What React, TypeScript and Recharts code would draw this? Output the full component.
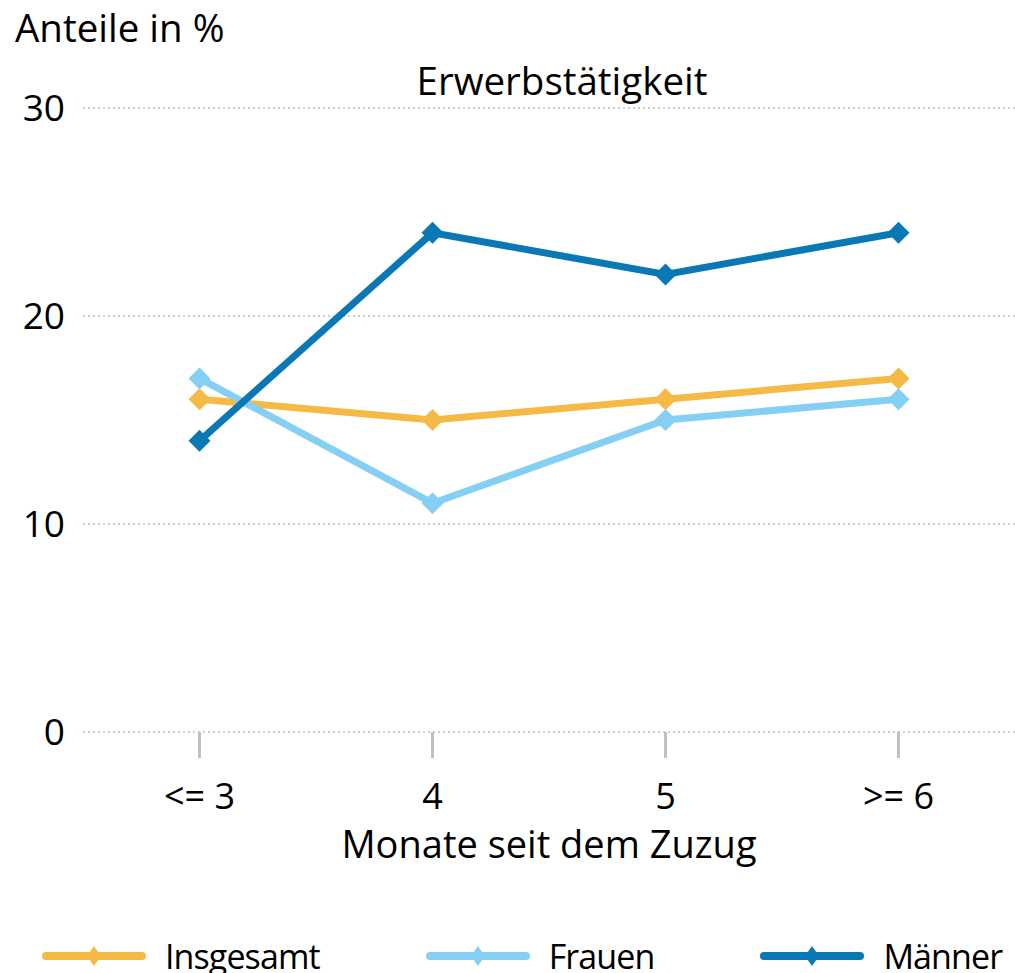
import React from "react";
import { LineChart, Line, XAxis, YAxis, CartesianGrid, Legend } from "recharts";

const months = ["<= 3", "4", "5", ">= 6"];
const insgesamt = [16, 15, 16, 17];
const frauen = [17, 11, 15, 16];
const maenner = [14, 24, 22, 24];
const yTicks = [0, 10, 20, 30];
const seriesNames = ["Insgesamt", "Frauen", "Männer"];

const data = months.map((m, i) => ({
  month: m,
  Insgesamt: insgesamt[i],
  Frauen: frauen[i],
  Männer: maenner[i],
}));

const FONT = "'Open Sans', sans-serif";

const Diamond = (props: any) => {
  const { cx, cy, stroke } = props;
  if (cx == null || cy == null) return null;
  const r = 11;
  return (
    <polygon
      points={`${cx},${cy - r} ${cx + r},${cy} ${cx},${cy + r} ${cx - r},${cy}`}
      fill={stroke}
    />
  );
};

const LegendContent = (props: any) => {
  const items = [...(props.payload || [])].sort(
    (a: any, b: any) => seriesNames.indexOf(a.value) - seriesNames.indexOf(b.value)
  );
  return (
    <div style={{ display: "flex", gap: 106, paddingLeft: 42, alignItems: "center" }}>
      {items.map((p: any) => (
        <div key={p.value} style={{ display: "flex", alignItems: "center" }}>
          <svg width={104} height={24}>
            <line x1={4} y1={12} x2={100} y2={12} stroke={p.color} strokeWidth={8} strokeLinecap="round" />
            <polygon points="52,2 59,12 52,22 45,12" fill={p.color} />
          </svg>
          <span
            style={{
              marginLeft: 19,
              fontFamily: FONT,
              fontSize: 34,
              letterSpacing: -0.9,
              color: "#000",
              lineHeight: 1,
            }}
          >
            {p.value}
          </span>
        </div>
      ))}
    </div>
  );
};

export default function App() {
  return (
    <div style={{ position: "absolute", left: 0, top: 0, width: 1015, height: 973, background: "#fff", overflow: "hidden" }}>
      <div style={{ position: "absolute", left: 15, top: 8, fontFamily: FONT, fontSize: 38.5, lineHeight: 1, color: "#000" }}>
        Anteile in %
      </div>
      <div style={{ position: "absolute", left: 0, width: 1124, top: 61, textAlign: "center", fontFamily: FONT, fontSize: 38.5, lineHeight: 1, color: "#000" }}>
        Erwerbstätigkeit
      </div>
      <LineChart width={1015} height={973} data={data} margin={{ top: 108, right: 0, left: 0, bottom: 91 }}>
        <CartesianGrid vertical={false} stroke="#bfbfbf" strokeWidth={1.5} strokeDasharray="2 3" />
        <XAxis
          dataKey="month"
          axisLine={false}
          tickSize={26}
          tickLine={{ stroke: "#c0c0c0", strokeWidth: 3 }}
          tickMargin={25}
          padding={{ left: 116.5, right: 116.5 }}
          height={150}
          tick={{ fill: "#000", fontSize: 36, fontFamily: FONT }}
          label={{ value: "Monate seit dem Zuzug", position: "insideBottom", offset: 24, fill: "#000", fontSize: 38, fontFamily: FONT }}
        />
        <YAxis
          domain={[0, 30]}
          ticks={yTicks}
          axisLine={false}
          tickLine={false}
          tickSize={0}
          tickMargin={18}
          width={83}
          tick={{ fill: "#000", fontSize: 37, fontFamily: FONT }}
        />
        <Legend
          verticalAlign="middle"
          align="center"
          layout="horizontal"
          wrapperStyle={{ top: 939, left: 0, width: 1015 }}
          content={<LegendContent />}
        />
        <Line dataKey="Insgesamt" stroke="#F5B946" strokeWidth={7} dot={<Diamond />} activeDot={false} isAnimationActive={false} />
        <Line dataKey="Frauen" stroke="#85CFF4" strokeWidth={7} dot={<Diamond />} activeDot={false} isAnimationActive={false} />
        <Line dataKey="Männer" stroke="#0A78B5" strokeWidth={7} dot={<Diamond />} activeDot={false} isAnimationActive={false} />
      </LineChart>
    </div>
  );
}
